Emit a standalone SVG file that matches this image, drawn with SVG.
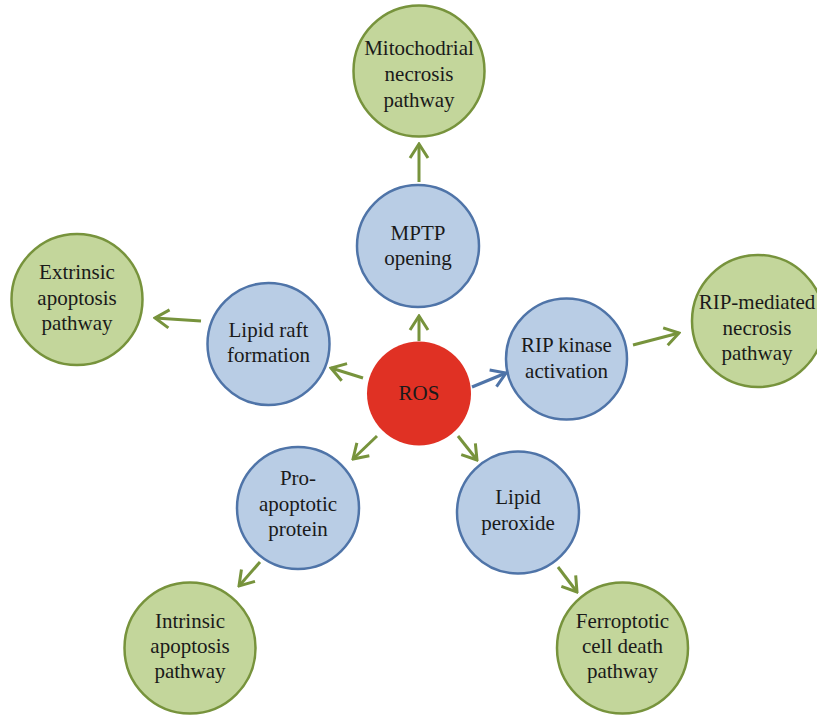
<svg xmlns="http://www.w3.org/2000/svg" width="817" height="716" viewBox="0 0 817 716">
<defs>
<style>
.g{fill:#c3d69b;stroke:#77933c;stroke-width:2.5}
.b{fill:#b9cde5;stroke:#4f74a8;stroke-width:2.5}
.r{fill:#e03124;stroke:none}
text{font-family:"Liberation Serif","Times New Roman",serif;font-size:21px;fill:#1a1a1a;text-anchor:middle}
.ag{stroke:#77933c;stroke-width:3;fill:none}
.ab{stroke:#4f74a8;stroke-width:3;fill:none}
</style>
<marker id="mg" viewBox="-16 -11 18 22" markerWidth="18" markerHeight="22" refX="0" refY="0" orient="auto" markerUnits="userSpaceOnUse">
<path d="M-14,-9 L0,0 L-14,9" fill="none" stroke="#77933c" stroke-width="3"/>
</marker>
<marker id="mb" viewBox="-16 -11 18 22" markerWidth="18" markerHeight="22" refX="0" refY="0" orient="auto" markerUnits="userSpaceOnUse">
<path d="M-14,-9 L0,0 L-14,9" fill="none" stroke="#4f74a8" stroke-width="3"/>
</marker>
</defs>
<rect width="817" height="716" fill="#ffffff"/>
<g id="connectors">
<line class="ag" x1="419" y1="341" x2="419" y2="316" marker-end="url(#mg)"/>
<line class="ag" x1="419" y1="182" x2="419" y2="144" marker-end="url(#mg)"/>
<line class="ag" x1="363" y1="378" x2="331" y2="368" marker-end="url(#mg)"/>
<line class="ag" x1="201" y1="321" x2="155" y2="318" marker-end="url(#mg)"/>
<line class="ab" x1="472" y1="387" x2="506" y2="373" marker-end="url(#mb)"/>
<line class="ag" x1="633" y1="345" x2="679" y2="333" marker-end="url(#mg)"/>
<line class="ag" x1="377" y1="436" x2="353" y2="459" marker-end="url(#mg)"/>
<line class="ag" x1="260" y1="562" x2="239" y2="586" marker-end="url(#mg)"/>
<line class="ag" x1="458" y1="436" x2="477" y2="460" marker-end="url(#mg)"/>
<line class="ag" x1="558" y1="567" x2="577" y2="592" marker-end="url(#mg)"/>
</g>
<g id="mito">
<circle class="g" cx="419" cy="71" r="65.5"/>
<text x="419" y="55">Mitochodrial</text>
<text x="419" y="81">necrosis</text>
<text x="419" y="107">pathway</text>
</g>
<g id="mptp">
<circle class="b" cx="418" cy="246" r="61"/>
<text x="418" y="240">MPTP</text>
<text x="418" y="265">opening</text>
</g>
<g id="extrinsic">
<circle class="g" cx="77" cy="299.5" r="65.5"/>
<text x="77" y="279">Extrinsic</text>
<text x="77" y="305">apoptosis</text>
<text x="77" y="330">pathway</text>
</g>
<g id="lipidraft">
<circle class="b" cx="268.5" cy="344" r="61"/>
<text x="268.5" y="337">Lipid raft</text>
<text x="268.5" y="362">formation</text>
</g>
<g id="ros">
<circle class="r" cx="419" cy="393.5" r="52"/>
<text x="419" y="400">ROS</text>
</g>
<g id="rip">
<circle class="b" cx="566.5" cy="359" r="60.5"/>
<text x="566.5" y="352">RIP kinase</text>
<text x="566.5" y="378">activation</text>
</g>
<g id="ripnecrosis">
<circle class="g" cx="758" cy="321" r="66"/>
<text x="757" y="309">RIP-mediated</text>
<text x="757" y="335">necrosis</text>
<text x="757" y="360">pathway</text>
</g>
<g id="proapoptotic">
<circle class="b" cx="298" cy="508" r="61"/>
<text x="298" y="485">Pro-</text>
<text x="298" y="511">apoptotic</text>
<text x="298" y="536">protein</text>
</g>
<g id="lipidperoxide">
<circle class="b" cx="518" cy="512.5" r="61"/>
<text x="518" y="504">Lipid</text>
<text x="518" y="530">peroxide</text>
</g>
<g id="intrinsic">
<circle class="g" cx="190" cy="648" r="65.5"/>
<text x="190" y="628">Intrinsic</text>
<text x="190" y="653">apoptosis</text>
<text x="190" y="678">pathway</text>
</g>
<g id="ferroptotic">
<circle class="g" cx="622.5" cy="648" r="65.5"/>
<text x="622.5" y="628">Ferroptotic</text>
<text x="622.5" y="653">cell death</text>
<text x="622.5" y="678">pathway</text>
</g>
</svg>
